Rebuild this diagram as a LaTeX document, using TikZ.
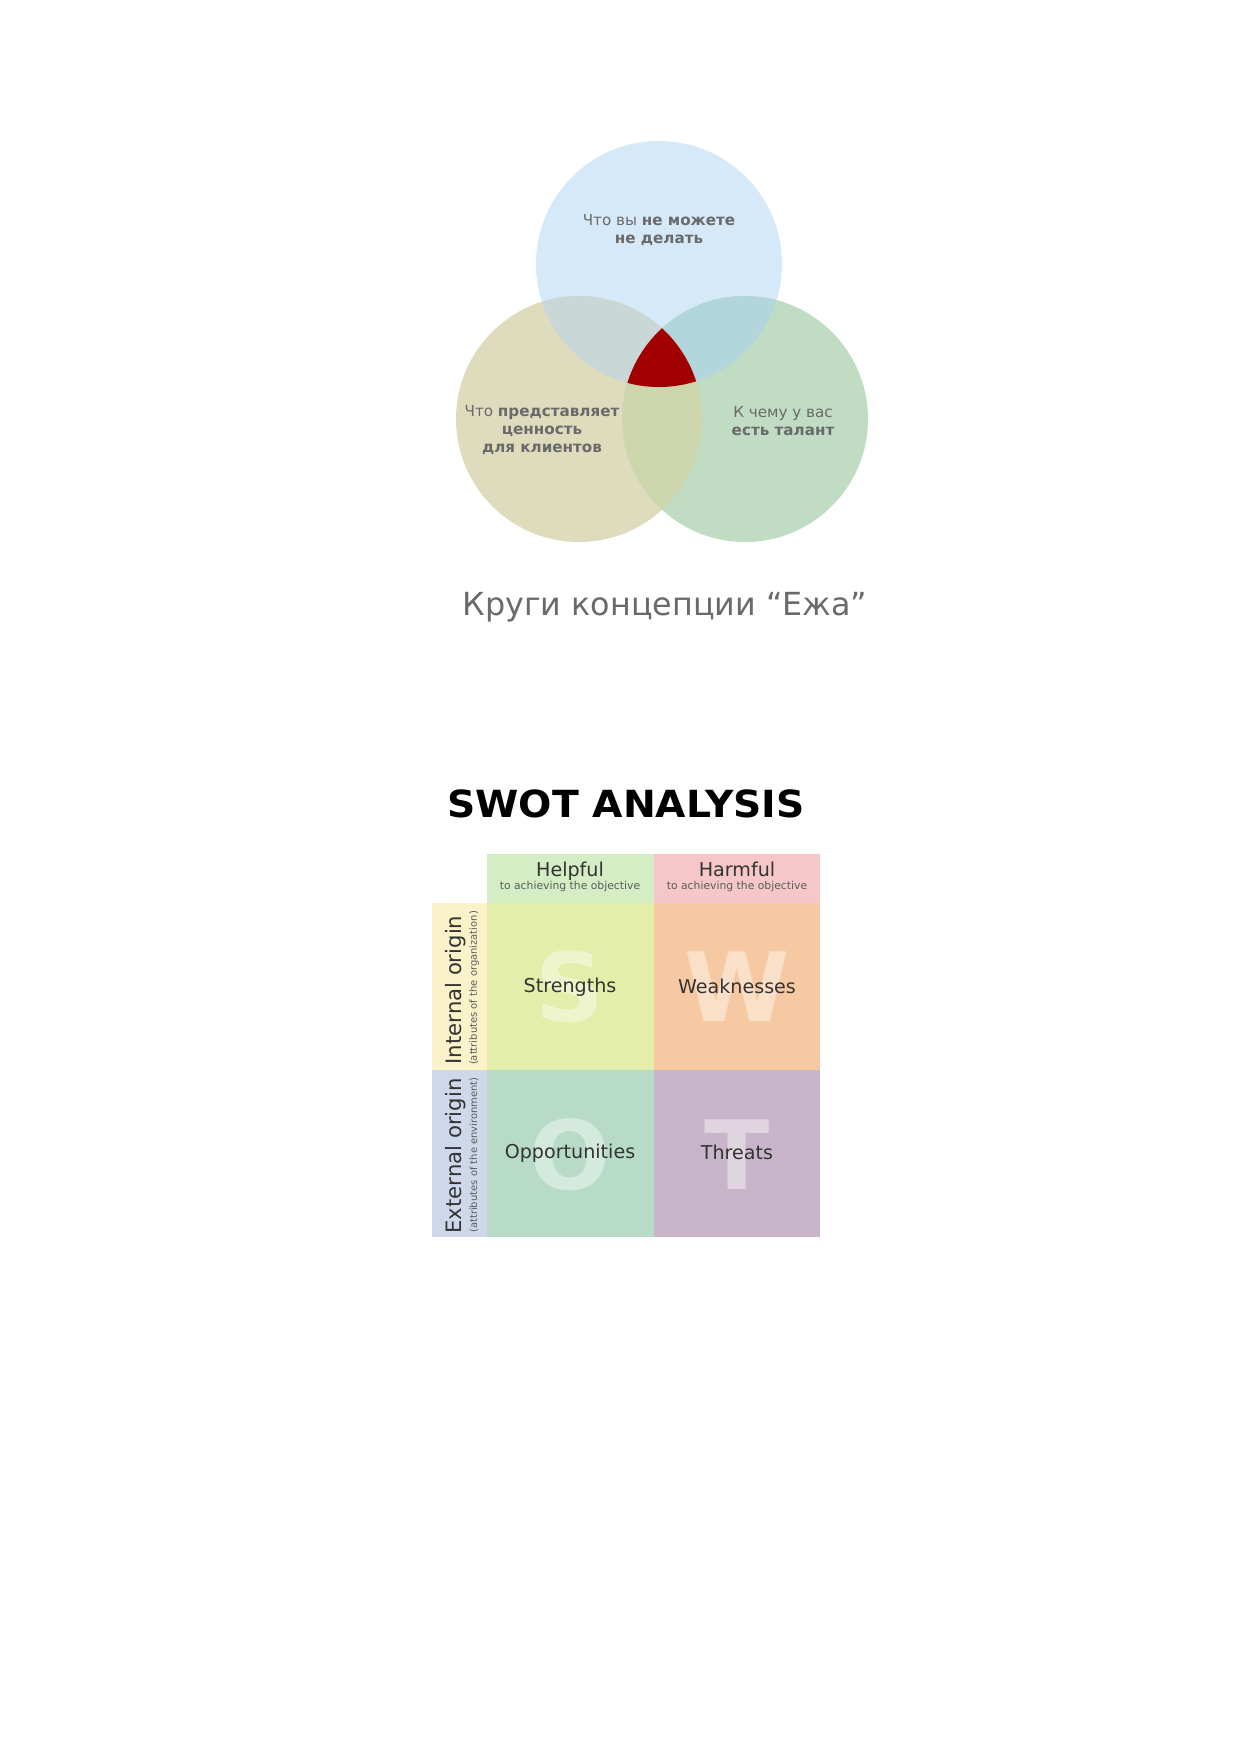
\documentclass[tikz,border=0pt]{standalone}
\usepackage{fontspec}
\setmainfont{DejaVu Sans}

\definecolor{blueC}{HTML}{D6E9F9}
\definecolor{beigeC}{HTML}{DFDBBD}
\definecolor{greenC}{HTML}{C0DCC3}
\definecolor{blueBeige}{HTML}{C9D8D6}
\definecolor{blueGreen}{HTML}{B3D6DD}
\definecolor{beigeGreen}{HTML}{CED6AE}
\definecolor{coreRed}{HTML}{A00000}
\definecolor{vennText}{HTML}{6A6A6A}
\definecolor{helpC}{HTML}{D4EDC4}
\definecolor{harmC}{HTML}{F6C7C8}
\definecolor{interC}{HTML}{FAF2C9}
\definecolor{exterC}{HTML}{CFD8EA}
\definecolor{sC}{HTML}{E3EEAA}
\definecolor{wC}{HTML}{F7C9A2}
\definecolor{oC}{HTML}{B7DBC7}
\definecolor{tC}{HTML}{C9B5CA}
\definecolor{swotText}{HTML}{333333}

\tikzset{
  venn/.style={align=center,text=vennText,font=\fontsize{7.3}{8.8}\selectfont},
  cell/.style={anchor=base,text=swotText,font=\fontsize{9.2}{11}\selectfont},
  sub/.style={anchor=base,text=swotText!80,font=\fontsize{5.2}{6}\selectfont},
  side/.style={rotate=90,inner sep=0pt,text=swotText,font=\fontsize{10.2}{11}\selectfont},
  sideSub/.style={rotate=90,inner sep=0pt,text=swotText!80,font=\fontsize{4.8}{5}\selectfont},
  bigletter/.style={text=white,text opacity=0.42,font=\fontsize{46}{48}\bfseries\selectfont}
}

\begin{document}
\begin{tikzpicture}[x=0.16922mm,y=-0.16922mm]
  \useasboundingbox (0,0) rectangle (1241,1754);
  \fill[white] (0,0) rectangle (1241,1754);

  % hedgehog circles
  \fill[blueC] (659,264) circle (123);
  \fill[beigeC] (579,419) circle (123);
  \fill[greenC] (745,419) circle (123);
  \begin{scope}
    \clip (659,264) circle (123);
    \fill[blueBeige] (579,419) circle (123);
    \fill[blueGreen] (745,419) circle (123);
  \end{scope}
  \begin{scope}
    \clip (579,419) circle (123);
    \fill[beigeGreen] (745,419) circle (123);
    \clip (745,419) circle (123);
    \fill[coreRed] (659,264) circle (123);
  \end{scope}

  \node[venn] (top) at (659,230) {Что вы \textbf{не можете}\\\textbf{не делать}};
  \node[venn] (value) at (542,430) {Что \textbf{представляет}\\\textbf{ценность}\\\textbf{для клиентов}};
  \node[venn] (talent) at (783,421) {К чему у вас\\\textbf{есть талант}};

  \node[anchor=base,text=vennText,font=\fontsize{15.3}{17}\selectfont] (caption) at (665,615) {Круги концепции “Ежа”};

  % swot grid
  \node[anchor=base,xscale=1.05,font=\fontsize{18}{20}\bfseries\selectfont] (title) at (626,817) {SWOT ANALYSIS};

  \fill[helpC] (487,854) rectangle (654,903);
  \fill[harmC] (654,854) rectangle (820,903);
  \fill[interC] (432,903) rectangle (487,1070);
  \fill[exterC] (432,1070) rectangle (487,1237);
  \fill[sC] (487,903) rectangle (654,1070);
  \fill[wC] (654,903) rectangle (820,1070);
  \fill[oC] (487,1070) rectangle (654,1237);
  \fill[tC] (654,1070) rectangle (820,1237);

  \node[bigletter] (bigS) at (570,987) {S};
  \node[bigletter] (bigW) at (737,987) {W};
  \node[bigletter] (bigO) at (570,1155) {O};
  \node[bigletter] (bigT) at (737,1155) {T};

  \node[cell] (helpful) at (570,876) {Helpful};
  \node[sub] (helpfulSub) at (570,889) {to achieving the objective};
  \node[cell] (harmful) at (737,876) {Harmful};
  \node[sub] (harmfulSub) at (737,889) {to achieving the objective};

  \node[side] (internal) at (456,990) {Internal origin};
  \node[sideSub] (internalSub) at (474,988) {(attributes of the organization)};
  \node[side] (external) at (456,1156) {External origin};
  \node[sideSub] (externalSub) at (474,1155) {(attributes of the environment)};

  \node[cell] (strengths) at (570,992) {Strengths};
  \node[cell] (weaknesses) at (737,993) {Weaknesses};
  \node[cell] (opportunities) at (570,1158) {Opportunities};
  \node[cell] (threats) at (737,1159) {Threats};
\end{tikzpicture}
\end{document}
